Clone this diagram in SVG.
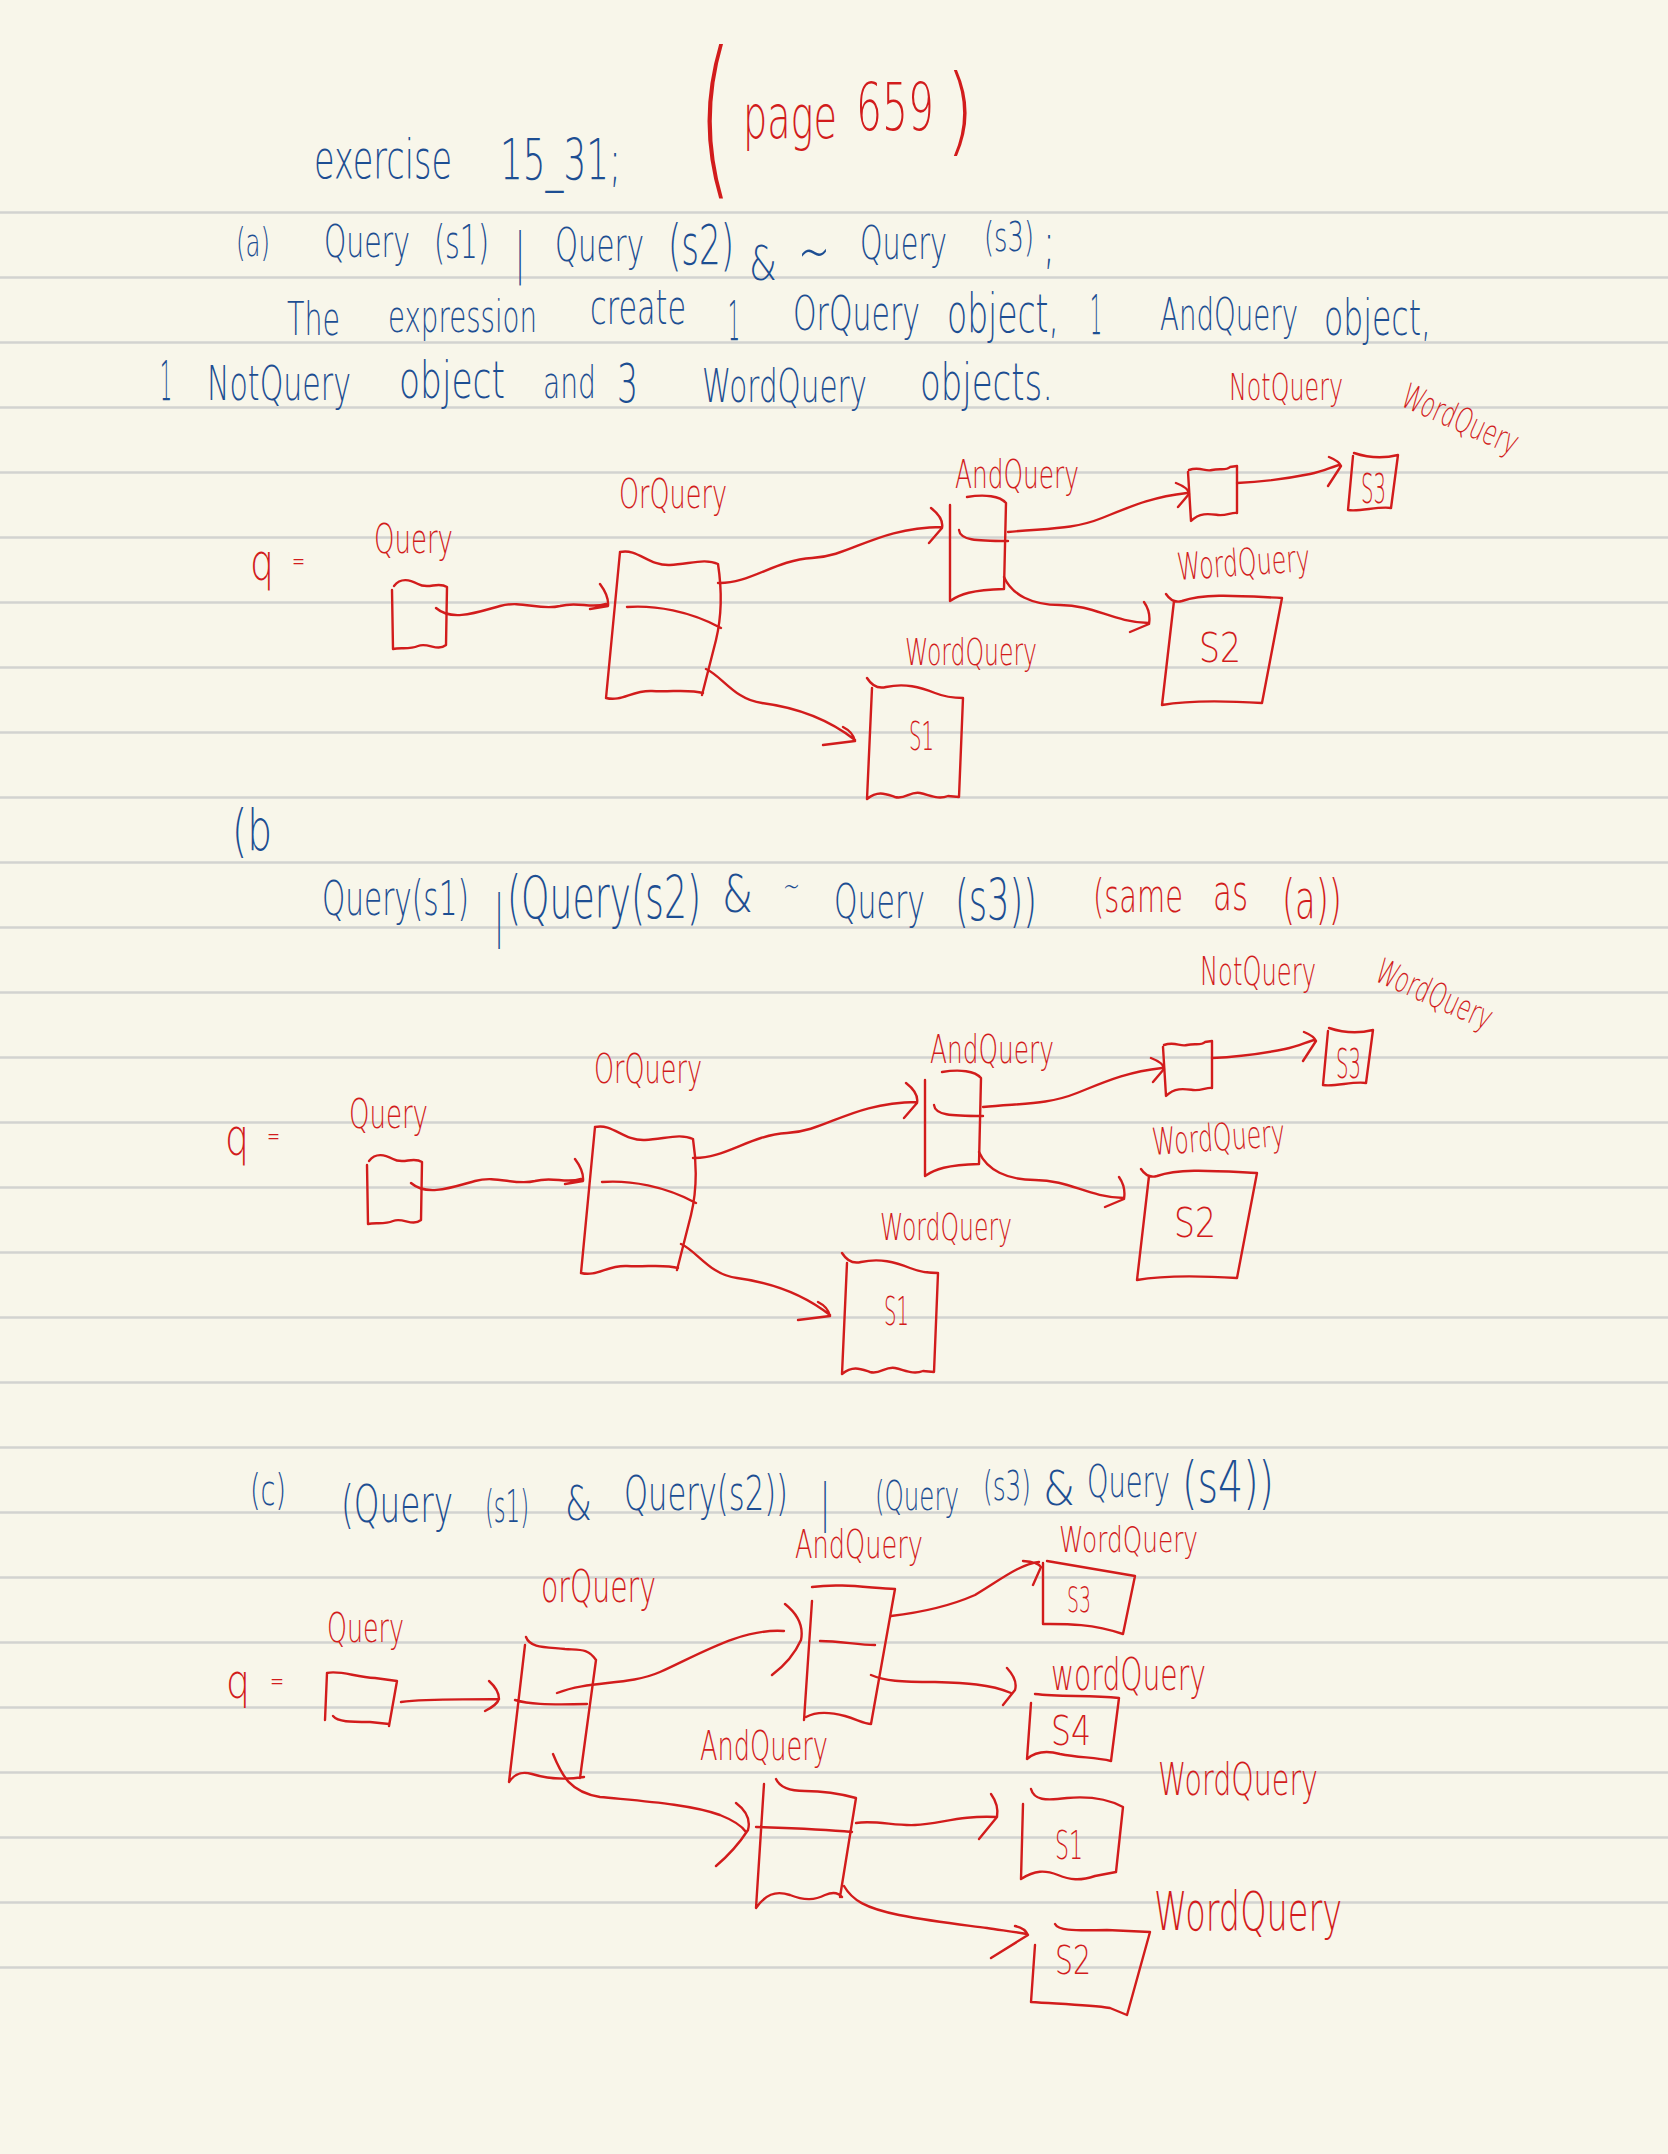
<svg xmlns="http://www.w3.org/2000/svg" width="1668" height="2154" viewBox="0 0 1668 2154">
<style>
.bg{fill:#f8f6ea}
.rule{stroke:#d3d3d0;stroke-width:2.5}
text{font-family:"DejaVu Sans","Liberation Sans",sans-serif;font-weight:200}
.b{fill:#1d4e92}
.r{fill:#d21c1c}
.s{fill:none;stroke:#d21c1c;stroke-width:2.4;stroke-linecap:round;stroke-linejoin:round}
</style>
<rect class="bg" x="0" y="0" width="1668" height="2154"/>
<g id="rules">
<line class="rule" x1="0" x2="1668" y1="212.5" y2="212.5"/>
<line class="rule" x1="0" x2="1668" y1="277.5" y2="277.5"/>
<line class="rule" x1="0" x2="1668" y1="342.5" y2="342.5"/>
<line class="rule" x1="0" x2="1668" y1="407.5" y2="407.5"/>
<line class="rule" x1="0" x2="1668" y1="472.5" y2="472.5"/>
<line class="rule" x1="0" x2="1668" y1="537.5" y2="537.5"/>
<line class="rule" x1="0" x2="1668" y1="602.5" y2="602.5"/>
<line class="rule" x1="0" x2="1668" y1="667.5" y2="667.5"/>
<line class="rule" x1="0" x2="1668" y1="732.5" y2="732.5"/>
<line class="rule" x1="0" x2="1668" y1="797.5" y2="797.5"/>
<line class="rule" x1="0" x2="1668" y1="862.5" y2="862.5"/>
<line class="rule" x1="0" x2="1668" y1="927.5" y2="927.5"/>
<line class="rule" x1="0" x2="1668" y1="992.5" y2="992.5"/>
<line class="rule" x1="0" x2="1668" y1="1057.5" y2="1057.5"/>
<line class="rule" x1="0" x2="1668" y1="1122.5" y2="1122.5"/>
<line class="rule" x1="0" x2="1668" y1="1187.5" y2="1187.5"/>
<line class="rule" x1="0" x2="1668" y1="1252.5" y2="1252.5"/>
<line class="rule" x1="0" x2="1668" y1="1317.5" y2="1317.5"/>
<line class="rule" x1="0" x2="1668" y1="1382.5" y2="1382.5"/>
<line class="rule" x1="0" x2="1668" y1="1447.5" y2="1447.5"/>
<line class="rule" x1="0" x2="1668" y1="1512.5" y2="1512.5"/>
<line class="rule" x1="0" x2="1668" y1="1577.5" y2="1577.5"/>
<line class="rule" x1="0" x2="1668" y1="1642.5" y2="1642.5"/>
<line class="rule" x1="0" x2="1668" y1="1707.5" y2="1707.5"/>
<line class="rule" x1="0" x2="1668" y1="1772.5" y2="1772.5"/>
<line class="rule" x1="0" x2="1668" y1="1837.5" y2="1837.5"/>
<line class="rule" x1="0" x2="1668" y1="1902.5" y2="1902.5"/>
<line class="rule" x1="0" x2="1668" y1="1967.5" y2="1967.5"/>
</g>

<g id="header">
<text class="b" x="314" y="178" font-size="32.9" textLength="138" lengthAdjust="spacingAndGlyphs" transform="matrix(1 0 0 1.6 0 -106.8)">exercise</text>
<text class="b" x="500" y="180" font-size="35.8" textLength="121" lengthAdjust="spacingAndGlyphs" transform="matrix(1 0 0 1.6 0 -108)">15_31;</text>
<text class="r" x="698" y="176" font-size="108" textLength="34" lengthAdjust="spacingAndGlyphs" transform="matrix(1 0 0 1.6 0 -105.6)">(</text>
<text class="r" x="743" y="138" font-size="37.6" textLength="94" lengthAdjust="spacingAndGlyphs" transform="matrix(1 0 0 1.6 0 -82.8)">page</text>
<text class="r" x="856" y="130" font-size="40.9" textLength="78" lengthAdjust="spacingAndGlyphs" transform="matrix(1 0 0 1.6 0 -78)">659</text>
<text class="r" x="946" y="143" font-size="60" textLength="28" lengthAdjust="spacingAndGlyphs" transform="matrix(1 0 0 1.6 0 -85.8)">)</text>
</g>

<g id="part-a-text">
<text class="b" x="236" y="256" font-size="24.4" textLength="34" lengthAdjust="spacingAndGlyphs" transform="matrix(1 0 0 1.6 0 -153.6)">(a)</text>
<text class="b" x="324" y="257" font-size="28.3" textLength="86" lengthAdjust="spacingAndGlyphs" transform="matrix(1 0 0 1.6 0 -154.2)">Query</text>
<text class="b" x="434" y="258" font-size="28.4" textLength="55" lengthAdjust="spacingAndGlyphs" transform="matrix(1 0 0 1.6 0 -154.8)">(s1)</text>
<text class="b" x="515" y="272" font-size="34" textLength="10" lengthAdjust="spacingAndGlyphs" transform="matrix(1 0 0 1.6 0 -163.2)">|</text>
<text class="b" x="555" y="261" font-size="29.3" textLength="89" lengthAdjust="spacingAndGlyphs" transform="matrix(1 0 0 1.6 0 -156.6)">Query</text>
<text class="b" x="668" y="264" font-size="34.1" textLength="66" lengthAdjust="spacingAndGlyphs" transform="matrix(1 0 0 1.6 0 -158.4)">(s2)</text>
<text class="b" x="749" y="280" font-size="30" textLength="28" lengthAdjust="spacingAndGlyphs" transform="matrix(1 0 0 1.6 0 -168)">&amp;</text>
<text class="b" x="798" y="272" font-size="38" textLength="32" lengthAdjust="spacingAndGlyphs" transform="matrix(1 0 0 1.6 0 -163.2)">~</text>
<text class="b" x="860" y="259" font-size="28.6" textLength="87" lengthAdjust="spacingAndGlyphs" transform="matrix(1 0 0 1.6 0 -155.4)">Query</text>
<text class="b" x="984" y="251" font-size="25.8" textLength="50" lengthAdjust="spacingAndGlyphs" transform="matrix(1 0 0 1.6 0 -150.6)">(s3)</text>
<text class="b" x="1043" y="262" font-size="35.6" textLength="12" lengthAdjust="spacingAndGlyphs" transform="matrix(1 0 0 1.6 0 -157.2)">;</text>

<text class="b" x="287" y="335" font-size="28.5" textLength="53" lengthAdjust="spacingAndGlyphs" transform="matrix(1 0 0 1.6 0 -201)">The</text>
<text class="b" x="388" y="332" font-size="27.4" textLength="149" lengthAdjust="spacingAndGlyphs" transform="matrix(1 0 0 1.6 0 -199.2)">expression</text>
<text class="b" x="590" y="324" font-size="30" textLength="96" lengthAdjust="spacingAndGlyphs" transform="matrix(1 0 0 1.6 0 -194.4)">create</text>
<text class="b" x="728" y="340" font-size="34" textLength="12" lengthAdjust="spacingAndGlyphs" transform="matrix(1 0 0 1.6 0 -204)">1</text>
<text class="b" x="793" y="330" font-size="30" textLength="127" lengthAdjust="spacingAndGlyphs" transform="matrix(1 0 0 1.6 0 -198)">OrQuery</text>
<text class="b" x="947" y="332" font-size="32.9" textLength="112" lengthAdjust="spacingAndGlyphs" transform="matrix(1 0 0 1.6 0 -199.2)">object,</text>
<text class="b" x="1090" y="334" font-size="34" textLength="12" lengthAdjust="spacingAndGlyphs" transform="matrix(1 0 0 1.6 0 -200.4)">1</text>
<text class="b" x="1160" y="330" font-size="27.6" textLength="138" lengthAdjust="spacingAndGlyphs" transform="matrix(1 0 0 1.6 0 -198)">AndQuery</text>
<text class="b" x="1324" y="335" font-size="31.5" textLength="107" lengthAdjust="spacingAndGlyphs" transform="matrix(1 0 0 1.6 0 -201)">object,</text>

<text class="b" x="160" y="400" font-size="34" textLength="12" lengthAdjust="spacingAndGlyphs" transform="matrix(1 0 0 1.6 0 -240)">1</text>
<text class="b" x="207" y="400" font-size="30" textLength="144" lengthAdjust="spacingAndGlyphs" transform="matrix(1 0 0 1.6 0 -240)">NotQuery</text>
<text class="b" x="399" y="398" font-size="32" textLength="106" lengthAdjust="spacingAndGlyphs" transform="matrix(1 0 0 1.6 0 -238.8)">object</text>
<text class="b" x="543" y="398" font-size="28.2" textLength="53" lengthAdjust="spacingAndGlyphs" transform="matrix(1 0 0 1.6 0 -238.8)">and</text>
<text class="b" x="617" y="402" font-size="33" textLength="21" lengthAdjust="spacingAndGlyphs" transform="matrix(1 0 0 1.6 0 -241.2)">3</text>
<text class="b" x="702" y="402" font-size="29" textLength="165" lengthAdjust="spacingAndGlyphs" transform="matrix(1 0 0 1.6 0 -241.2)">WordQuery</text>
<text class="b" x="920" y="400" font-size="32" textLength="133" lengthAdjust="spacingAndGlyphs" transform="matrix(1 0 0 1.6 0 -240)">objects.</text>
</g>

<g id="diagram-a">
<g id="a-labels">
<text class="r" x="250" y="580" font-size="32" textLength="24" lengthAdjust="spacingAndGlyphs" transform="matrix(1 0 0 1.6 0 -348)">q</text>
<text class="r" x="292" y="570" font-size="18" textLength="13" lengthAdjust="spacingAndGlyphs" transform="matrix(1 0 0 1.6 0 -342)">=</text>
<text class="r" x="1229" y="400" font-size="23.8" textLength="114" lengthAdjust="spacingAndGlyphs" transform="matrix(1 0 0 1.6 0 -240)">NotQuery</text>
<text class="r" x="1399" y="405" font-size="21.8" textLength="124" lengthAdjust="spacingAndGlyphs" transform="rotate(24 1399 405) matrix(1 0 0 1.6 0 -243)">WordQuery</text>
</g>
<g id="a-query">
<text class="r" x="374" y="553" font-size="26" textLength="79" lengthAdjust="spacingAndGlyphs" transform="matrix(1 0 0 1.6 0 -331.8)">Query</text>
<path class="s" d="M394,586 C401,577 410,580 418,584 C428,590 438,581 447,587 L446,645 C437,652 428,642 418,646 C409,650 400,647 393,649 L392,590"/>
</g>
<g id="a-orquery">
<text class="r" x="619" y="508" font-size="25.5" textLength="108" lengthAdjust="spacingAndGlyphs" transform="matrix(1 0 0 1.6 0 -304.8)">OrQuery</text>
<path class="s" d="M620,552 C638,548 648,566 670,565 C690,564 705,558 718,564 C722,590 722,615 716,640 L702,695 M606,698 C622,702 632,690 652,691 C672,692 690,689 703,693 M620,552 L606,698 M627,607 C655,605 690,611 721,628"/>
</g>
<g id="a-andquery">
<text class="r" x="955" y="488" font-size="24.8" textLength="124" lengthAdjust="spacingAndGlyphs" transform="matrix(1 0 0 1.6 0 -292.8)">AndQuery</text>
<path class="s" d="M967,497 C985,494 1000,496 1006,503 L1004,589 M950,505 L950,601 C960,594 972,590 1004,589 M959,530 C960,540 975,541 1008,541"/>
</g>
<g id="a-notquery">
<path class="s" d="M1189,470 C1200,466 1205,472 1212,470 C1220,468 1226,471 1230,467 L1237,466 L1237,513 C1232,512 1226,516 1218,515 C1210,514 1200,512 1191,521 L1188,472"/>
</g>
<g id="a-s3">
<path class="s" d="M1354,453 C1366,457 1382,459 1398,455 L1391,508 C1378,506 1360,512 1348,510 L1353,456"/>
<text class="r" x="1361" y="503" font-size="26" textLength="25" lengthAdjust="spacingAndGlyphs" transform="matrix(1 0 0 1.6 0 -301.8)">S3</text>
</g>
<g id="a-s2">
<text class="r" x="1178" y="580" font-size="23.4" textLength="133" lengthAdjust="spacingAndGlyphs" transform="rotate(-4 1178 580) matrix(1 0 0 1.6 0 -348)">WordQuery</text>
<path class="s" d="M1166,594 C1170,600 1175,603 1182,601 C1205,593 1240,596 1282,598 L1262,703 C1230,701 1190,700 1162,705 L1174,601"/>
<text class="r" x="1199" y="662" font-size="26" textLength="42" lengthAdjust="spacingAndGlyphs" transform="matrix(1 0 0 1.6 0 -397.2)">S2</text>
</g>
<g id="a-s1">
<text class="r" x="905" y="665" font-size="23.2" textLength="132" lengthAdjust="spacingAndGlyphs" transform="matrix(1 0 0 1.6 0 -399)">WordQuery</text>
<path class="s" d="M867,678 C872,686 878,689 886,687 C905,683 920,687 935,693 C945,697 955,698 963,698 L959,797 L948,796 C938,800 930,795 920,793 C910,791 905,800 895,797 C886,794 878,790 867,799 L872,688"/>
<text class="r" x="909" y="750" font-size="24" textLength="25" lengthAdjust="spacingAndGlyphs" transform="matrix(1 0 0 1.6 0 -450)">S1</text>
</g>
<g id="a-connectors">
<path class="s" d="M436,608 C452,622 478,612 500,606 C522,600 540,611 560,606 C578,601 590,609 606,604 M600,584 Q609,596 608,606 L590,609"/>
<path class="s" d="M718,583 C750,584 775,560 812,558 C852,556 875,528 942,527 M931,508 Q944,518 942,528 L929,543"/>
<path class="s" d="M706,669 C722,676 735,700 762,703 C800,708 832,722 855,740 M843,727 Q853,732 855,741 L823,745"/>
<path class="s" d="M1008,532 C1048,528 1072,530 1102,518 C1132,506 1152,497 1187,493 M1176,483 Q1189,488 1189,494 L1178,507"/>
<path class="s" d="M1004,577 C1012,595 1032,605 1060,605 C1095,605 1112,622 1149,623 M1144,602 Q1151,612 1149,624 L1130,632"/>
<path class="s" d="M1237,483 C1262,482 1290,478 1310,474 C1325,471 1333,466 1340,465 M1329,457 Q1339,461 1341,466 L1328,486"/>
</g>
</g>

<g id="part-b-text">
<text class="b" x="232" y="850" font-size="36" textLength="40" lengthAdjust="spacingAndGlyphs" transform="matrix(1 0 0 1.6 0 -510)">(b</text>
<text class="b" x="322" y="915" font-size="29.5" textLength="147" lengthAdjust="spacingAndGlyphs" transform="matrix(1 0 0 1.6 0 -549)">Query(s1)</text>
<text class="b" x="494" y="935" font-size="36" textLength="10" lengthAdjust="spacingAndGlyphs" transform="matrix(1 0 0 1.6 0 -561)">|</text>
<text class="b" x="507" y="918" font-size="36.2" textLength="194" lengthAdjust="spacingAndGlyphs" transform="matrix(1 0 0 1.6 0 -550.8)">(Query(s2)</text>
<text class="b" x="722" y="912" font-size="32" textLength="31" lengthAdjust="spacingAndGlyphs" transform="matrix(1 0 0 1.6 0 -547.2)">&amp;</text>
<text class="b" x="783" y="897" font-size="20" textLength="17" lengthAdjust="spacingAndGlyphs" transform="matrix(1 0 0 1.6 0 -538.2)">~</text>
<text class="b" x="834" y="918" font-size="30" textLength="91" lengthAdjust="spacingAndGlyphs" transform="matrix(1 0 0 1.6 0 -550.8)">Query</text>
<text class="b" x="955" y="920" font-size="35.2" textLength="82" lengthAdjust="spacingAndGlyphs" transform="matrix(1 0 0 1.6 0 -552)">(s3))</text>
<text class="r" x="1093" y="912" font-size="28.9" textLength="90" lengthAdjust="spacingAndGlyphs" transform="matrix(1 0 0 1.6 0 -547.2)">(same</text>
<text class="r" x="1213" y="910" font-size="30.9" textLength="35" lengthAdjust="spacingAndGlyphs" transform="matrix(1 0 0 1.6 0 -546)">as</text>
<text class="r" x="1282" y="918" font-size="33.7" textLength="60" lengthAdjust="spacingAndGlyphs" transform="matrix(1 0 0 1.6 0 -550.8)">(a))</text>
</g>

<g id="diagram-b" transform="translate(-25,575)">
<g id="b-labels">
<text class="r" x="250" y="580" font-size="32" textLength="24" lengthAdjust="spacingAndGlyphs" transform="matrix(1 0 0 1.6 0 -348)">q</text>
<text class="r" x="292" y="570" font-size="18" textLength="13" lengthAdjust="spacingAndGlyphs" transform="matrix(1 0 0 1.6 0 -342)">=</text>
<text class="r" x="1225" y="410" font-size="24.2" textLength="116" lengthAdjust="spacingAndGlyphs" transform="matrix(1 0 0 1.6 0 -246)">NotQuery</text>
<text class="r" x="1398" y="405" font-size="21.8" textLength="124" lengthAdjust="spacingAndGlyphs" transform="rotate(24 1398 405) matrix(1 0 0 1.6 0 -243)">WordQuery</text>
</g>
<g id="b-query">
<text class="r" x="374" y="553" font-size="26" textLength="79" lengthAdjust="spacingAndGlyphs" transform="matrix(1 0 0 1.6 0 -331.8)">Query</text>
<path class="s" d="M394,586 C401,577 410,580 418,584 C428,590 438,581 447,587 L446,645 C437,652 428,642 418,646 C409,650 400,647 393,649 L392,590"/>
</g>
<g id="b-orquery">
<text class="r" x="619" y="508" font-size="25.5" textLength="108" lengthAdjust="spacingAndGlyphs" transform="matrix(1 0 0 1.6 0 -304.8)">OrQuery</text>
<path class="s" d="M620,552 C638,548 648,566 670,565 C690,564 705,558 718,564 C722,590 722,615 716,640 L702,695 M606,698 C622,702 632,690 652,691 C672,692 690,689 703,693 M620,552 L606,698 M627,607 C655,605 690,611 721,628"/>
</g>
<g id="b-andquery">
<text class="r" x="955" y="488" font-size="24.8" textLength="124" lengthAdjust="spacingAndGlyphs" transform="matrix(1 0 0 1.6 0 -292.8)">AndQuery</text>
<path class="s" d="M967,497 C985,494 1000,496 1006,503 L1004,589 M950,505 L950,601 C960,594 972,590 1004,589 M959,530 C960,540 975,541 1008,541"/>
</g>
<g id="b-notquery">
<path class="s" d="M1189,470 C1200,466 1205,472 1212,470 C1220,468 1226,471 1230,467 L1237,466 L1237,513 C1232,512 1226,516 1218,515 C1210,514 1200,512 1191,521 L1188,472"/>
</g>
<g id="b-s3">
<path class="s" d="M1354,453 C1366,457 1382,459 1398,455 L1391,508 C1378,506 1360,512 1348,510 L1353,456"/>
<text class="r" x="1361" y="503" font-size="26" textLength="25" lengthAdjust="spacingAndGlyphs" transform="matrix(1 0 0 1.6 0 -301.8)">S3</text>
</g>
<g id="b-s2">
<text class="r" x="1178" y="580" font-size="23.4" textLength="133" lengthAdjust="spacingAndGlyphs" transform="rotate(-4 1178 580) matrix(1 0 0 1.6 0 -348)">WordQuery</text>
<path class="s" d="M1166,594 C1170,600 1175,603 1182,601 C1205,593 1240,596 1282,598 L1262,703 C1230,701 1190,700 1162,705 L1174,601"/>
<text class="r" x="1199" y="662" font-size="26" textLength="42" lengthAdjust="spacingAndGlyphs" transform="matrix(1 0 0 1.6 0 -397.2)">S2</text>
</g>
<g id="b-s1">
<text class="r" x="905" y="665" font-size="23.2" textLength="132" lengthAdjust="spacingAndGlyphs" transform="matrix(1 0 0 1.6 0 -399)">WordQuery</text>
<path class="s" d="M867,678 C872,686 878,689 886,687 C905,683 920,687 935,693 C945,697 955,698 963,698 L959,797 L948,796 C938,800 930,795 920,793 C910,791 905,800 895,797 C886,794 878,790 867,799 L872,688"/>
<text class="r" x="909" y="750" font-size="24" textLength="25" lengthAdjust="spacingAndGlyphs" transform="matrix(1 0 0 1.6 0 -450)">S1</text>
</g>
<g id="b-connectors">
<path class="s" d="M436,608 C452,622 478,612 500,606 C522,600 540,611 560,606 C578,601 590,609 606,604 M600,584 Q609,596 608,606 L590,609"/>
<path class="s" d="M718,583 C750,584 775,560 812,558 C852,556 875,528 942,527 M931,508 Q944,518 942,528 L929,543"/>
<path class="s" d="M706,669 C722,676 735,700 762,703 C800,708 832,722 855,740 M843,727 Q853,732 855,741 L823,745"/>
<path class="s" d="M1008,532 C1048,528 1072,530 1102,518 C1132,506 1152,497 1187,493 M1176,483 Q1189,488 1189,494 L1178,507"/>
<path class="s" d="M1004,577 C1012,595 1032,605 1060,605 C1095,605 1112,622 1149,623 M1144,602 Q1151,612 1149,624 L1130,632"/>
<path class="s" d="M1237,483 C1262,482 1290,478 1310,474 C1325,471 1333,466 1340,465 M1329,457 Q1339,461 1341,466 L1328,486"/>
</g>
</g>

<g id="part-c-text">
<text class="b" x="250" y="1505" font-size="27" textLength="36" lengthAdjust="spacingAndGlyphs" transform="matrix(1 0 0 1.6 0 -903)">(c)</text>
<text class="b" x="341" y="1522" font-size="32.7" textLength="112" lengthAdjust="spacingAndGlyphs" transform="matrix(1 0 0 1.6 0 -913.2)">(Query</text>
<text class="b" x="485" y="1522" font-size="28" textLength="44" lengthAdjust="spacingAndGlyphs" transform="matrix(1 0 0 1.6 0 -913.2)">(s1)</text>
<text class="b" x="565" y="1520" font-size="30" textLength="27" lengthAdjust="spacingAndGlyphs" transform="matrix(1 0 0 1.6 0 -912)">&amp;</text>
<text class="b" x="624" y="1510" font-size="30.5" textLength="164" lengthAdjust="spacingAndGlyphs" transform="matrix(1 0 0 1.6 0 -906)">Query(s2))</text>
<text class="b" x="820" y="1520" font-size="32" textLength="10" lengthAdjust="spacingAndGlyphs" transform="matrix(1 0 0 1.6 0 -912)">|</text>
<text class="b" x="875" y="1510" font-size="26" textLength="84" lengthAdjust="spacingAndGlyphs" transform="matrix(1 0 0 1.6 0 -906)">(Query</text>
<text class="b" x="983" y="1500" font-size="25" textLength="48" lengthAdjust="spacingAndGlyphs" transform="matrix(1 0 0 1.6 0 -900)">(s3)</text>
<text class="b" x="1043" y="1505" font-size="30" textLength="32" lengthAdjust="spacingAndGlyphs" transform="matrix(1 0 0 1.6 0 -903)">&amp;</text>
<text class="b" x="1087" y="1497" font-size="27.3" textLength="83" lengthAdjust="spacingAndGlyphs" transform="matrix(1 0 0 1.6 0 -898.2)">Query</text>
<text class="b" x="1182" y="1502" font-size="36" textLength="92" lengthAdjust="spacingAndGlyphs" transform="matrix(1 0 0 1.6 0 -901.2)">(s4))</text>
</g>

<g id="diagram-c">
<g id="c-labels">
<text class="r" x="226" y="1698" font-size="30" textLength="24" lengthAdjust="spacingAndGlyphs" transform="matrix(1 0 0 1.6 0 -1018.8)">q</text>
<text class="r" x="270" y="1690" font-size="17" textLength="14" lengthAdjust="spacingAndGlyphs" transform="matrix(1 0 0 1.6 0 -1014)">=</text>
</g>
<g id="c-query">
<text class="r" x="327" y="1642" font-size="25.3" textLength="77" lengthAdjust="spacingAndGlyphs" transform="matrix(1 0 0 1.6 0 -985.2)">Query</text>
<path class="s" d="M327,1673 C340,1670 355,1677 375,1678 L397,1681 L389,1726 M327,1673 L325,1720 M333,1716 C338,1722 350,1722 370,1722 L389,1724"/>
</g>
<g id="c-orquery">
<text class="r" x="541" y="1602" font-size="28.3" textLength="115" lengthAdjust="spacingAndGlyphs" transform="matrix(1 0 0 1.6 0 -961.2)">orQuery</text>
<path class="s" d="M526,1637 C530,1648 545,1647 565,1649 C580,1650 588,1648 596,1660 L580,1778 M525,1645 L509,1782 C515,1773 522,1771 532,1774 C548,1779 565,1780 584,1777 M515,1700 C528,1704 545,1705 587,1704"/>
</g>
<g id="c-andquery-1">
<text class="r" x="795" y="1558" font-size="24" textLength="128" lengthAdjust="spacingAndGlyphs" transform="matrix(1 0 0 1.6 0 -934.8)">AndQuery</text>
<path class="s" d="M812,1587 C840,1583 870,1588 895,1589 L871,1724 M812,1601 L804,1720 M806,1717 C815,1712 830,1712 845,1716 C858,1720 865,1724 871,1724 M820,1641 C840,1641 858,1645 875,1645"/>
</g>
<g id="c-andquery-2">
<text class="r" x="700" y="1760" font-size="25.6" textLength="128" lengthAdjust="spacingAndGlyphs" transform="matrix(1 0 0 1.6 0 -1056)">AndQuery</text>
<path class="s" d="M776,1779 C780,1788 790,1791 805,1791 C830,1791 845,1795 856,1798 L840,1897 M764,1784 L756,1908 C765,1895 775,1890 790,1895 C805,1901 815,1900 825,1895 C832,1892 838,1892 842,1897 M756,1827 C785,1828 820,1829 852,1832"/>
</g>
<g id="c-s3">
<text class="r" x="1059" y="1552" font-size="22" textLength="139" lengthAdjust="spacingAndGlyphs" transform="matrix(1 0 0 1.6 0 -931.2)">WordQuery</text>
<path class="s" d="M1047,1561 C1070,1565 1100,1570 1135,1576 L1123,1634 C1090,1623 1063,1624 1043,1624 L1043,1563"/>
<text class="r" x="1067" y="1612" font-size="22" textLength="24" lengthAdjust="spacingAndGlyphs" transform="matrix(1 0 0 1.6 0 -967.2)">S3</text>
</g>
<g id="c-s4">
<text class="r" x="1051" y="1690" font-size="28.1" textLength="155" lengthAdjust="spacingAndGlyphs" transform="matrix(1 0 0 1.6 0 -1014)">wordQuery</text>
<path class="s" d="M1035,1694 C1060,1697 1090,1695 1119,1698 L1111,1761 C1095,1757 1080,1758 1060,1754 C1045,1750 1035,1752 1027,1759 L1031,1703"/>
<text class="r" x="1051" y="1745" font-size="26" textLength="40" lengthAdjust="spacingAndGlyphs" transform="matrix(1 0 0 1.6 0 -1047)">S4</text>
</g>
<g id="c-s1">
<text class="r" x="1158" y="1795" font-size="28.1" textLength="160" lengthAdjust="spacingAndGlyphs" transform="matrix(1 0 0 1.6 0 -1077)">WordQuery</text>
<path class="s" d="M1031,1789 C1034,1800 1045,1801 1067,1798 C1090,1796 1110,1800 1123,1807 L1116,1872 L1095,1876 C1080,1881 1070,1880 1058,1875 C1045,1870 1035,1870 1021,1879 L1023,1804"/>
<text class="r" x="1055" y="1859" font-size="24" textLength="28" lengthAdjust="spacingAndGlyphs" transform="matrix(1 0 0 1.6 0 -1115.4)">S1</text>
</g>
<g id="c-s2">
<text class="r" x="1154" y="1930" font-size="33" textLength="188" lengthAdjust="spacingAndGlyphs" transform="matrix(1 0 0 1.6 0 -1158)">WordQuery</text>
<path class="s" d="M1055,1924 C1058,1930 1070,1931 1107,1930 L1150,1932 L1127,2015 L1110,2008 C1090,2005 1060,2004 1031,2002 L1035,1945"/>
<text class="r" x="1055" y="1974" font-size="24" textLength="36" lengthAdjust="spacingAndGlyphs" transform="matrix(1 0 0 1.6 0 -1184.4)">S2</text>
</g>
<g id="c-connectors">
<path class="s" d="M401,1702 C430,1698 460,1700 499,1699 M489,1681 Q499,1690 499,1699 Q497,1705 485,1711"/>
<path class="s" d="M557,1693 C590,1680 628,1686 660,1672 C700,1654 742,1628 784,1631 M785,1604 Q805,1620 801,1640 Q792,1660 772,1675"/>
<path class="s" d="M891,1616 C925,1612 950,1606 975,1595 C1000,1580 1020,1564 1039,1562 M1023,1561 Q1038,1562 1041,1567 L1033,1585"/>
<path class="s" d="M871,1675 C885,1681 900,1682 935,1682 C965,1683 990,1684 1011,1693 M1007,1668 Q1018,1680 1015,1690 L1003,1705"/>
<path class="s" d="M553,1754 C562,1776 570,1792 600,1797 C640,1801 690,1804 720,1815 C735,1821 742,1826 746,1832 M736,1803 Q752,1815 748,1830 Q735,1850 716,1866"/>
<path class="s" d="M856,1823 C875,1820 895,1826 915,1825 C940,1824 960,1815 997,1817 M991,1794 Q999,1805 997,1817 L979,1839"/>
<path class="s" d="M844,1886 C852,1900 865,1908 899,1915 C935,1922 965,1925 987,1928 C1000,1930 1015,1932 1027,1934 M1015,1926 Q1025,1928 1028,1935 L991,1958"/>
</g>
</g>
</svg>
